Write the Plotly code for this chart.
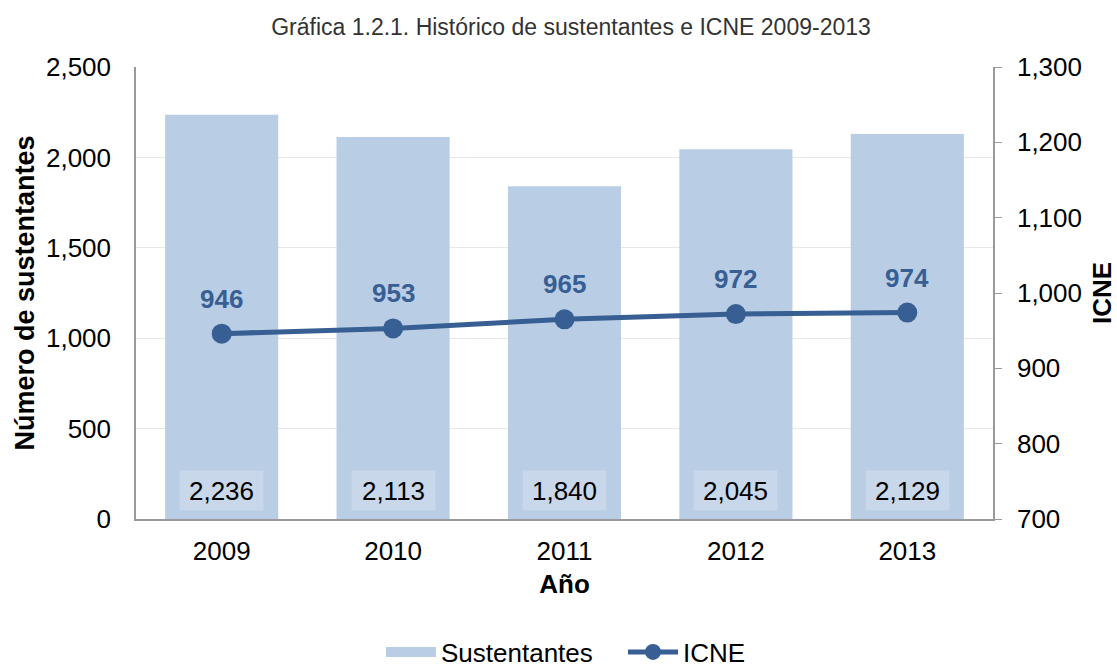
import plotly.graph_objects as go

years = [2009, 2010, 2011, 2012, 2013]
sustentantes = [2236, 2113, 1840, 2045, 2129]
icne = [946, 953, 965, 972, 974]

bar_color = '#B9CDE5'
line_color = '#375F93'
font = 'Liberation Sans, Arial, sans-serif'

fig = go.Figure()

fig.add_trace(go.Bar(
    x=years, y=sustentantes, name='Sustentantes',
    marker=dict(color=bar_color, line=dict(width=0)),
    width=0.66, showlegend=False,
))

# legend entry drawn as a wide block like the original
fig.add_trace(go.Scatter(
    x=[None], y=[None], name='Sustentantes', mode='lines',
    line=dict(color=bar_color, width=16),
))

fig.add_trace(go.Scatter(
    x=years, y=icne, name='ICNE', yaxis='y2',
    mode='lines+markers',
    line=dict(color=line_color, width=5),
    marker=dict(color=line_color, size=20),
))

# ICNE labels above the markers
for yr, v in zip(years, icne):
    fig.add_annotation(
        x=yr, y=v, yref='y2', yanchor='bottom', yshift=18,
        text=f'<b>{v}</b>', showarrow=False,
        font=dict(family=font, size=26, color=line_color),
    )

# value labels at the foot of each bar
for yr, v in zip(years, sustentantes):
    fig.add_annotation(
        x=yr, y=0, yref='y', yanchor='bottom', yshift=8,
        text=f'{v:,}', showarrow=False,
        font=dict(family=font, size=26, color='#000000'),
        bgcolor='#C8D7EA', borderpad=4, width=75, height=31,
    )

fig.update_layout(
    width=1117, height=670,
    paper_bgcolor='white', plot_bgcolor='white',
    margin=dict(l=136, r=124, t=67, b=151, autoexpand=False),
    font=dict(family=font, size=26, color='#000000'),
    title=dict(
        text='Gráfica 1.2.1. Histórico de sustentantes e ICNE 2009-2013',
        x=571 / 1117, xanchor='center', y=1 - 27 / 670, yanchor='middle',
        font=dict(family=font, size=23, color='#333333'),
    ),
    xaxis=dict(
        type='linear', range=[2008.5, 2013.5], dtick=1, tickformat='d',
        title=dict(text='<b>Año</b>', font=dict(size=26), standoff=10),
        showgrid=False, ticks='', tickfont=dict(size=26),
        showline=True, linecolor='#9A9A9A', linewidth=1.5,
        ticklabelstandoff=8, zeroline=False, automargin=False,
    ),
    yaxis=dict(
        title=dict(text='<b>Número de sustentantes</b>', font=dict(size=27), standoff=4),
        range=[0, 2500], dtick=500, tickformat=',',
        showgrid=True, gridcolor='#E8E8E8', gridwidth=1,
        showline=True, linecolor='#9A9A9A', linewidth=1.5,
        ticks='', tickfont=dict(size=26), zeroline=False,
        ticklabelstandoff=18, automargin=False,
    ),
    yaxis2=dict(
        title=dict(text='<b>ICNE</b>', font=dict(size=26), standoff=15),
        overlaying='y', side='right',
        range=[700, 1300], dtick=100, tickformat=',',
        showgrid=False, zeroline=False,
        showline=True, linecolor='#9A9A9A', linewidth=1.5,
        ticks='outside', ticklen=7, tickcolor='#9A9A9A',
        tickfont=dict(size=26), ticklabelstandoff=10, automargin=False,
    ),
    legend=dict(
        orientation='h', x=(381 - 136) / 857, xanchor='left',
        yref='paper', y=-(652 - 519) / 452, yanchor='middle',
        font=dict(size=26), traceorder='normal', itemwidth=50,
        entrywidth=177,
    ),
)

fig.write_html('out.html', config={'displayModeBar': False},
               post_script="document.body.style.margin='0';")
